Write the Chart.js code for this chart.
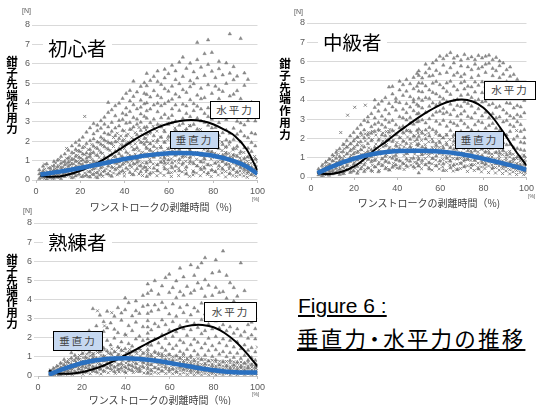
<!DOCTYPE html>
<html><head><meta charset="utf-8">
<script src="https://cdn.jsdelivr.net/npm/chart.js@4"></script>
<style>
html,body{margin:0;padding:0;background:#fff;}
#wrap{position:relative;width:537px;height:405px;overflow:hidden;background:#fff;font-family:"Noto Sans CJK JP","Liberation Sans",sans-serif;}
canvas{position:absolute;}
.t{position:absolute;white-space:nowrap;color:#000;}
.unit{font-family:"Liberation Sans",sans-serif;font-size:7px;color:#595959;}
.pct{font-family:"Liberation Sans",sans-serif;font-size:5px;color:#595959;}
.ytitle{position:absolute;width:14px;text-align:center;font-weight:bold;font-size:11.5px;color:#000;}
.ttl{position:absolute;background:#fff;font-size:19.5px;color:#000;padding:0 5px;line-height:22px;white-space:nowrap;}
.box{position:absolute;border:1.6px solid #000;box-sizing:border-box;font-size:10.5px;color:#404040;text-align:center;letter-spacing:2px;white-space:nowrap;}
.white{background:#fff;}
.blue{background:#c6d8f0;}
.xt{position:absolute;font-size:10px;color:#404040;transform:translateX(-50%);white-space:nowrap;}
.fig{position:absolute;text-decoration:underline;text-decoration-thickness:1.5px;text-underline-offset:2px;color:#000;white-space:nowrap;}
.dot{margin:0 -0.2em;}
</style></head>
<body><div id="wrap">
<canvas id="c1" width="268" height="200" style="left:0;top:0"></canvas>
<canvas id="c2" width="267" height="200" style="left:270px;top:0"></canvas>
<canvas id="c3" width="268" height="205" style="left:0;top:200px"></canvas>

<div class="t unit" style="left:22px;top:7px">[N]</div>
<div class="t unit" style="left:294px;top:8px">[N]</div>
<div class="t unit" style="left:23px;top:207px">[N]</div>
<div class="t pct" style="left:252px;top:196px">[%]</div>
<div class="t pct" style="left:528px;top:193px">[%]</div>
<div class="t pct" style="left:252px;top:391px">[%]</div>

<div class="ytitle" style="left:5px;top:56px;line-height:11.2px">鉗<br>子<br>先<br>端<br>作<br>用<br>力</div>
<div class="ytitle" style="left:278px;top:58px;line-height:11.8px">鉗<br>子<br>先<br>端<br>作<br>用<br>力</div>
<div class="ytitle" style="left:5px;top:254px;line-height:10.6px">鉗<br>子<br>先<br>端<br>作<br>用<br>力</div>

<div class="ttl" style="left:43px;top:37px">初心者</div>
<div class="ttl" style="left:318px;top:31px">中級者</div>
<div class="ttl" style="left:43px;top:231px">熟練者</div>

<div class="box white" style="left:210px;top:101px;width:50px;height:18px;line-height:15px">水平力</div>
<div class="box blue" style="left:170px;top:131px;width:49px;height:18px;line-height:15px">垂直力</div>
<div class="box white" style="left:484px;top:81px;width:52px;height:19px;line-height:16px">水平力</div>
<div class="box blue" style="left:455px;top:131px;width:49px;height:18px;line-height:15px">垂直力</div>
<div class="box white" style="left:204px;top:302px;width:53px;height:20px;line-height:17px">水平力</div>
<div class="box blue" style="left:53px;top:331px;width:50px;height:20px;line-height:17px">垂直力</div>

<div class="xt" style="left:161px;top:199px">ワンストロークの剥離時間（%)</div>
<div class="xt" style="left:429px;top:195px">ワンストロークの剥離時間（%)</div>
<div class="xt" style="left:160px;top:392px">ワンストロークの剥離時間（%)</div>

<div class="fig" style="left:298px;top:294px;font-family:'Liberation Sans',sans-serif;font-size:21px">Figure 6 :</div>
<div class="fig" style="left:297px;top:322px;font-size:21.5px;letter-spacing:2.2px">垂直力<span class="dot">・</span>水平力の推移</div>
</div>
<script>
// ---------- trend curves ----------
const noviceBlackX = [2,5,10,15,20,25,30,35,40,45,50,55,60,65,70,75,80,85,90,95,100];
const noviceBlackY = [0.22,0.17,0.18,0.3,0.48,0.72,1.02,1.38,1.75,2.12,2.45,2.72,2.92,3.05,3.1,3.05,2.88,2.6,2.25,1.6,0.5];
const noviceBlueX = [2,10,20,30,40,50,60,65,70,80,90,95,100];
const noviceBlueY = [0.28,0.42,0.62,0.85,1.08,1.27,1.38,1.4,1.38,1.25,0.95,0.7,0.32];

const interBlackX = [3,5,8,10,15,20,25,30,35,40,45,50,55,60,65,70,75,80,85,90,95,100];
const interBlackY = [0.22,0.17,0.15,0.17,0.3,0.55,0.95,1.45,1.85,2.3,2.7,3.1,3.45,3.75,3.95,4.02,3.92,3.6,3.0,2.2,1.35,0.6];
const interBlueX = [3,10,20,30,40,50,60,70,80,90,100];
const interBlueY = [0.2,0.55,0.95,1.22,1.35,1.37,1.32,1.18,0.95,0.68,0.38];

const expertBlackX = [5,10,15,20,25,30,35,40,45,50,55,60,65,70,73,75,80,85,90,95,100];
const expertBlackY = [0.28,0.12,0.12,0.2,0.35,0.55,0.8,1.1,1.4,1.72,2.0,2.28,2.52,2.65,2.68,2.67,2.55,2.25,1.8,1.2,0.5];
const expertBlueX = [5,10,15,20,25,30,35,40,45,50,55,60,65,70,75,80,85,90,95,100];
const expertBlueY = [0.07,0.3,0.5,0.68,0.8,0.88,0.92,0.93,0.9,0.85,0.78,0.68,0.58,0.48,0.38,0.3,0.24,0.2,0.18,0.18];

// ---------- samples read column by column: [x, [y...]] ----------
const noviceTri = [
[1.5,[0.08,0.31,0.52]],[3.2,[0.14,0.22,0.47,0.71]],[4.9,[0.05,0.38,0.29,0.83]],[6.4,[0.19,0.11,0.61,0.44]],
[8.1,[0.27,0.09,0.74,0.52,0.95]],[9.7,[0.33,0.68,0.14,1.02,0.49]],[11.3,[0.21,0.87,0.43,1.21,0.06,0.63]],[13.0,[0.52,0.18,1.34,0.79,0.96,0.37]],
[14.6,[0.71,0.29,1.12,0.48,1.53,0.92]],[16.2,[0.12,0.83,1.41,0.57,1.07,1.76,0.34]],[17.9,[0.46,1.22,0.68,1.93,0.21,0.97,1.58]],[19.5,[0.87,0.31,1.48,2.05,0.62,1.16,1.79]],
[21.1,[0.18,1.03,1.67,0.54,2.21,1.34,0.79]],[22.8,[0.64,1.39,0.25,1.88,2.47,1.12,0.93]],[24.4,[1.21,0.42,2.03,0.77,1.58,2.69,0.15,1.34]],[26.0,[0.58,1.74,0.96,2.38,2.91,0.29,1.42,2.12]],
[27.7,[0.81,1.96,0.37,2.54,1.27,1.63,0.12,2.83]],[29.3,[1.42,0.63,2.21,3.06,0.95,1.84,0.28,2.67]],[30.9,[0.47,1.71,2.88,1.18,2.43,0.86,3.24,2.05]],[32.6,[1.05,2.36,0.31,1.59,3.48,2.74,0.72,1.93,4.0]],
[34.2,[0.66,1.88,2.97,1.33,0.19,2.51,3.62,1.02]],[35.8,[1.48,0.54,2.68,3.31,1.97,0.87,2.29,3.83,1.21]],[37.5,[0.93,2.14,1.62,3.07,0.35,2.79,3.96,1.36,0.68]],[39.1,[1.77,0.48,2.56,3.44,1.19,2.02,4.21,0.81,3.12]],
[40.7,[0.61,1.43,2.93,3.71,2.28,0.97,1.86,4.47,3.36]],[42.4,[1.24,2.61,0.39,3.53,1.89,4.08,2.97,0.76,4.62]],[44.0,[0.84,2.07,1.56,3.22,4.31,2.74,0.27,3.88,1.13,5.1]],[45.6,[1.67,0.58,2.88,3.67,2.33,4.54,1.09,3.14,0.91]],
[47.3,[0.42,1.94,3.41,2.56,4.12,1.31,4.83,2.98,0.73,3.76]],[48.9,[1.28,2.71,0.66,3.93,1.85,4.47,3.28,2.14,5.02]],[50.0,[0.18,0.52,0.87,1.21,1.63,1.98,2.36,2.74,3.19,3.57,3.98,4.41,4.86,5.5]],[51.6,[0.94,2.47,1.52,3.66,4.28,0.35,2.96,5.13,1.87]],
[53.2,[1.73,0.61,3.14,2.28,4.61,3.87,1.18,5.34,2.63]],[54.9,[0.79,2.05,3.52,1.41,4.36,2.87,5.08,0.47,3.96,5.62]],[56.5,[1.36,2.74,0.92,3.83,4.93,2.21,1.67,4.24,3.21]],[58.1,[0.57,1.94,3.38,2.49,4.71,1.12,5.27,3.94,0.86,5.71]],
[59.8,[1.61,2.87,0.38,4.06,3.19,5.49,2.24,1.03,4.58]],[61.4,[0.89,2.31,3.67,1.47,4.84,2.95,5.92,0.63,4.17,3.33]],[63.0,[1.94,0.71,3.04,4.43,2.58,5.18,1.28,3.87,5.63]],[64.7,[0.48,1.57,2.82,3.59,4.97,2.16,6.08,1.06,4.28]],
[66.3,[1.23,2.46,0.86,3.91,5.34,3.17,1.79,4.66,6.34,2.91]],[67.9,[0.67,1.98,3.43,2.63,4.52,5.76,1.41,3.82,0.32]],[69.6,[1.52,2.79,0.95,4.14,3.27,5.12,2.24,6.03,1.17,4.81]],[71.2,[0.41,2.13,3.58,1.76,4.97,2.87,5.58,0.84,3.94]],
[72.8,[1.36,2.62,0.72,3.81,4.38,6.21,2.04,5.26,7.1,3.19]],[74.5,[0.93,1.89,3.04,2.41,4.73,5.82,1.27,3.66,0.54,4.19]],[76.1,[1.68,2.97,0.61,4.25,3.43,5.39,2.16,6.52,1.09]],[77.7,[0.78,2.34,3.72,1.49,4.91,2.82,5.96,3.27,7.23,0.36]],
[79.4,[1.44,0.52,2.69,3.96,4.47,1.91,5.61,3.13,6.58,2.37]],[81.0,[0.87,2.08,3.42,1.26,4.84,2.71,5.28,0.43,3.88]],[82.6,[1.62,2.96,0.74,4.19,3.53,5.74,2.29,1.15,4.67,6.12]],[84.3,[0.56,1.83,3.21,2.44,4.57,1.29,5.42,3.86,0.97]],
[85.9,[1.37,2.58,0.82,3.64,4.98,2.07,6.04,3.12,1.71]],[87.5,[0.69,1.96,3.27,2.41,4.33,5.51,1.18,7.54,3.79,0.34]],[89.2,[1.28,2.67,0.57,3.86,2.09,5.17,4.42,5.85,1.63]],[90.8,[0.81,1.74,3.03,2.36,4.61,1.21,3.58,0.42,5.36]],
[92.4,[1.46,0.63,2.51,3.72,1.97,4.19,7.3,2.94,0.98]],[94.1,[0.53,1.67,2.84,1.12,3.43,4.88,2.27,0.87,5.52]],[95.7,[1.19,0.41,2.18,3.06,1.64,3.77,5.19,0.79]],[97.3,[0.66,1.47,0.28,2.43,1.93,3.21,4.02]],
[99.0,[0.36,1.08,1.76,0.59,2.37,3.04]]
];
const noviceCross = [
[2.3,[0.12,0.36,0.21]],[3.9,[0.28,0.07,0.55,0.82]],[5.6,[0.41,0.17,0.63]],[7.4,[0.09,0.36,0.71,0.48]],
[8.9,[0.22,0.58,0.34,0.87]],[10.5,[0.46,0.13,0.74,1.06,0.29]],[12.2,[0.31,0.66,0.18,0.94,0.52]],[13.8,[0.58,1.12,0.24,0.83,1.63,0.41]],
[15.4,[0.19,0.77,0.46,1.21,0.95]],[17.1,[0.63,0.32,1.08,0.84,1.39,0.14]],[18.7,[0.43,0.96,0.26,1.27,0.71,1.52]],[20.3,[0.81,0.17,1.14,0.55,1.46,0.99]],
[22.0,[0.36,1.31,0.68,0.93,1.72,3.28,0.21]],[23.6,[0.72,0.44,1.19,1.57,0.18,0.96]],[25.2,[0.53,1.06,0.29,1.41,0.84,1.83]],[26.9,[0.92,0.38,1.28,1.67,0.61,0.16]],
[28.5,[0.24,1.16,0.73,1.52,1.94,0.49]],[30.1,[0.68,1.37,0.43,1.79,1.04,0.19,2.13]],[31.8,[1.12,0.57,1.64,0.31,2.01,0.89]],[33.4,[0.46,1.28,0.82,1.91,1.52,0.23,2.34]],
[35.0,[0.97,0.36,1.73,1.21,2.19,0.64]],[36.7,[0.59,1.46,0.27,1.98,1.07,2.41,0.83]],[38.3,[1.24,0.71,1.83,0.43,2.27,1.55]],[39.9,[0.38,1.09,1.62,2.08,0.86,2.53,0.21]],
[41.6,[0.91,1.37,0.54,1.96,2.36,1.18]],[43.2,[0.66,1.71,0.29,1.23,2.18,2.62,0.97]],[44.8,[1.33,0.48,1.87,0.82,2.44,1.58]],[46.5,[0.74,1.52,0.31,2.07,1.16,2.71,0.96]],
[48.1,[1.18,0.57,1.94,1.43,2.33,0.23,0.89]],[49.7,[0.42,1.36,0.91,2.16,1.71,2.58,0.67]],[51.3,[1.07,0.64,1.58,2.41,0.27,1.89]],[52.9,[0.83,1.46,0.39,2.02,1.21,2.77]],
[54.6,[0.51,1.29,1.94,0.78,2.52,1.63,0.22]],[56.2,[1.14,0.36,1.73,0.92,2.21,2.84]],[57.8,[0.69,1.47,0.24,1.98,1.19,2.57,0.98]],[59.5,[1.26,0.54,2.09,0.86,1.62,2.93]],
[61.1,[0.38,1.09,1.81,0.72,2.34,1.44,0.18]],[62.7,[0.97,1.58,0.46,2.16,1.27,2.68]],[64.4,[0.61,1.34,0.23,1.93,0.89,2.47,1.68]],[66.0,[1.16,0.42,1.76,2.29,0.78,1.41]],
[67.6,[0.53,1.21,1.89,0.31,2.56,0.96]],[69.3,[0.84,1.54,0.19,2.13,1.12,2.81]],[70.9,[0.47,1.28,0.91,1.97,2.44,0.26]],[72.5,[1.07,0.36,1.69,2.26,0.74,1.42]],
[74.2,[0.63,1.39,0.22,1.84,2.61,0.98]],[75.8,[0.91,1.58,0.41,2.17,1.16,0.68]],[77.4,[0.29,1.24,0.82,1.93,2.36,1.51]],[79.1,[0.76,1.46,0.18,2.04,1.08,0.49]],
[80.7,[1.17,0.43,1.72,0.87,2.24,1.38]],[82.3,[0.58,1.31,0.26,1.86,0.94,2.09]],[84.0,[0.94,0.37,1.52,1.17,1.96,0.63]],[85.6,[0.44,1.23,0.79,1.68,0.16,1.42]],
[87.2,[0.82,0.31,1.37,1.04,1.83,0.57]],[88.9,[0.52,1.14,0.23,1.56,0.86,1.29]],[90.5,[0.73,0.38,1.28,0.97,1.61,0.19]],[92.1,[0.46,0.92,1.36,0.27,1.14,0.68]],
[93.8,[0.61,0.21,1.09,0.83,1.42,0.39]],[95.4,[0.33,0.74,0.52,1.18,0.14,0.96]],[97.0,[0.48,0.27,0.86,0.64,1.07]],[98.7,[0.22,0.57,0.38,0.81,1.21]],
[100,[0.12,0.34,0.51,0.72,0.93,1.06,0.44]]
];

const interTri = [
[3.5,[0.11,0.26,0.42]],[5.1,[0.07,0.34,0.58,0.19]],[6.8,[0.23,0.49,0.14,0.76]],[8.4,[0.38,0.09,0.63,0.92,0.27]],
[10.0,[0.16,0.54,0.83,0.31,1.14]],[11.7,[0.46,0.22,0.97,0.71,1.28]],[13.3,[0.64,0.13,1.06,0.39,1.47,0.86]],[14.9,[0.28,0.91,0.52,1.31,1.68,0.17]],
[16.6,[0.77,1.19,0.36,1.54,0.58,1.89]],[18.2,[0.43,1.02,1.71,0.24,1.36,2.13,0.81]],[19.8,[0.96,0.31,1.48,2.31,0.67,1.87,1.19]],[21.5,[0.54,1.27,2.06,0.19,1.66,2.52,0.88]],
[23.1,[1.11,0.42,1.83,2.71,0.73,1.42,2.28]],[24.7,[0.63,1.56,2.44,0.28,2.03,2.94,1.14]],[26.4,[1.32,0.47,2.19,2.86,0.91,1.73,3.12]],[28.0,[0.79,1.88,2.61,0.34,1.41,3.29,2.27,1.06]],
[29.6,[1.54,0.52,2.37,3.07,1.17,2.74,3.61,0.86,4.0]],[31.3,[0.68,1.91,2.83,1.34,3.42,0.27,2.46,3.78]],[32.9,[1.27,2.18,0.59,3.16,1.73,3.94,2.71,0.94]],[34.5,[0.43,1.62,2.58,3.49,1.08,4.12,2.97,0.81,2.14]],
[36.2,[1.46,0.74,2.33,3.28,1.91,3.82,2.84,4.67,0.36]],[37.8,[0.97,1.84,2.94,0.51,3.64,2.42,4.31,1.37,4.7]],[39.4,[1.63,0.62,2.71,3.47,2.19,4.08,1.12,3.91,0.88]],[41.1,[0.84,2.04,3.13,1.48,3.86,2.56,4.52,0.46,4.97]],
[42.7,[1.39,2.63,0.71,3.52,4.24,1.86,3.07,4.79,2.31]],[44.3,[0.58,1.74,2.96,3.81,1.23,4.46,2.41,5.06,3.34,0.93]],[46.0,[1.57,2.38,0.82,3.63,4.17,1.96,4.84,3.09,2.79]],[47.6,[0.97,2.12,3.44,1.38,4.58,2.74,5.17,3.89,0.53,4.03]],
[49.2,[1.68,0.72,2.86,3.76,1.94,4.71,3.27,5.38,2.41]],[50.0,[0.21,0.57,0.93,1.34,1.72,2.11,2.48,2.89,3.31,3.68,4.09,4.46,4.88,5.27,5.51]],[51.6,[0.86,2.27,3.58,1.56,4.42,2.96,5.14,3.97,1.17,4.87]],[53.2,[1.49,0.64,2.81,4.12,3.36,5.41,1.98,4.73,2.44,5.86]],
[54.9,[0.73,2.13,3.67,1.27,4.52,3.02,5.63,2.57,4.08,0.41,5.24]],[56.5,[1.83,0.96,3.21,4.39,2.46,5.27,3.84,1.41,5.92,4.87]],[58.1,[0.58,2.36,1.64,3.73,4.96,2.89,5.53,4.31,1.09,6.06,3.37]],[59.8,[1.27,2.74,0.83,4.17,3.41,5.36,2.16,4.79,6.27,3.86,1.79]],
[61.4,[0.69,2.03,3.57,1.51,4.62,2.94,5.81,4.06,0.34,6.14,3.29]],[63.0,[1.68,0.97,2.63,3.92,4.88,2.17,5.43,3.36,6.31,4.44,1.26]],[64.7,[0.82,2.41,3.78,1.53,4.29,5.67,2.86,6.46,3.24,4.97,0.48]],[66.3,[1.44,2.18,0.63,3.49,4.71,2.78,5.92,3.97,5.28,1.86,6.17]],
[67.9,[0.96,2.67,1.62,4.03,3.16,5.41,4.52,6.28,2.21,0.39,3.71]],[69.6,[1.57,0.71,2.93,3.66,4.88,2.38,5.76,4.24,6.07,1.18,3.27,5.21]],[71.2,[0.88,2.14,3.42,1.68,4.57,5.34,2.76,6.36,3.91,4.96,0.54]],[72.8,[1.36,2.58,0.92,3.82,4.29,5.72,3.14,1.84,6.14,4.71,2.27]],
[74.5,[0.62,1.91,3.07,2.43,4.68,5.16,3.68,6.24,1.27,5.57,4.13]],[76.1,[1.74,0.86,2.71,3.94,4.41,5.86,3.32,2.14,6.09,4.93,1.36]],[77.7,[0.97,2.36,3.54,1.58,4.76,5.27,2.89,6.31,4.02,0.42,5.63]],[79.4,[1.46,2.82,0.73,3.89,4.38,5.71,3.17,2.09,6.18,4.94,1.12]],
[81.0,[0.67,1.98,3.36,2.53,4.71,5.43,1.31,6.27,3.93,4.18,5.86]],[82.6,[1.52,2.67,0.91,3.74,4.52,5.91,3.08,2.18,6.33,4.87,1.23]],[84.3,[0.84,2.14,3.29,1.63,4.36,5.26,2.78,6.09,3.81,5.64,0.47]],[85.9,[1.28,2.53,0.69,3.61,4.84,5.52,3.07,1.86,6.21,4.27]],
[87.5,[0.73,1.84,3.12,2.41,4.49,5.78,3.67,1.23,5.16,6.02]],[89.2,[1.36,2.29,0.56,3.48,4.17,5.34,2.86,1.78,5.92,4.71]],[90.8,[0.61,1.67,2.93,2.18,3.84,4.96,3.31,1.14,5.57,4.38]],[92.4,[1.21,2.36,0.78,3.17,4.41,2.71,5.23,3.82,1.69,5.71]],
[94.1,[0.49,1.53,2.62,1.96,3.58,4.74,3.06,0.94,4.23,5.32]],[95.7,[1.04,2.12,0.62,2.87,3.71,1.48,4.36,3.23,5.07]],[97.3,[0.56,1.42,2.37,1.81,3.14,4.13,2.72,0.97,3.64]],[99.0,[0.31,1.08,1.76,0.67,2.46,3.33,2.04,3.97,1.38]]
];
const interCross = [
[3.9,[0.14,0.29]],[5.6,[0.21,0.44,0.08,0.66]],[7.2,[0.37,0.13,0.58,0.81]],[8.9,[0.26,0.67,0.44,0.93]],
[10.5,[0.52,0.19,0.84,1.07,0.36]],[12.1,[0.33,0.76,1.16,0.57,1.38]],[13.8,[0.61,0.24,0.97,1.29,2.31,0.44]],[15.4,[0.46,1.08,0.73,1.47,0.19,1.71]],
[17.0,[0.82,0.37,1.24,1.59,3.21,0.62]],[18.7,[0.54,1.13,0.28,1.76,0.91,1.43]],[20.3,[1.02,0.47,1.58,1.97,3.62,0.76,1.29]],[21.9,[0.66,1.34,0.31,1.81,2.07,0.98]],
[23.6,[1.17,0.52,1.63,0.86,2.16,1.41]],[25.2,[0.38,1.26,1.87,0.74,2.24,3.73,1.02]],[26.8,[0.93,1.51,0.46,2.03,1.23,2.31]],[28.5,[0.61,1.36,0.87,1.94,2.37,0.29]],
[30.1,[1.14,0.53,1.71,2.18,0.92,1.46]],[31.7,[0.77,1.42,0.34,1.98,2.41,1.19]],[33.4,[1.28,0.64,1.86,0.97,2.29,1.57]],[35.0,[0.49,1.17,1.68,2.36,0.83,1.94]],
[36.6,[1.03,0.37,1.54,2.13,1.31,2.47]],[38.3,[0.71,1.44,0.58,1.92,2.38,1.09]],[39.9,[1.26,0.46,1.79,0.93,2.21,1.58]],[41.5,[0.57,1.34,2.04,0.82,1.67,2.46]],
[43.2,[1.12,0.68,1.57,2.27,0.39,1.86]],[44.8,[0.84,1.46,0.52,2.08,1.21,2.42]],[46.4,[1.33,0.61,1.74,0.97,2.31,1.52]],[48.1,[0.46,1.19,1.86,0.77,2.14,1.43]],
[49.7,[1.07,0.58,1.62,2.28,0.89,1.38]],[51.3,[0.72,1.36,0.43,1.91,2.37,1.16]],[53.0,[1.22,0.64,1.68,0.96,2.19,1.47]],[54.6,[0.51,1.12,1.83,0.78,2.29,1.39]],
[56.2,[0.97,1.54,0.36,1.97,1.24,0.69]],[57.9,[1.31,0.59,1.76,0.88,2.23,1.48]],[59.5,[0.68,1.21,0.42,1.87,1.53,2.16]],[61.1,[1.14,0.53,1.62,0.91,2.04,1.37]],
[62.8,[0.77,1.33,0.34,1.79,1.08,2.21]],[64.4,[1.09,0.62,1.51,0.87,1.94,1.28]],[66.0,[0.56,1.18,0.31,1.68,0.96,2.07]],[67.7,[0.93,1.42,0.67,1.83,1.16,0.38]],
[69.3,[0.71,1.26,0.44,1.61,1.97,0.97]],[70.9,[1.03,0.52,1.47,0.82,1.86,1.24]],[72.6,[0.58,1.14,0.29,1.57,0.91,1.78]],[74.2,[0.86,1.36,0.47,1.72,1.12,0.63]],
[75.8,[0.64,1.08,0.34,1.49,1.83,0.89]],[77.5,[0.97,0.49,1.31,0.72,1.67,1.16]],[79.1,[0.52,1.06,0.27,1.44,0.83,1.74]],[80.7,[0.81,1.27,0.44,1.58,0.99,0.61]],
[82.4,[0.57,1.02,0.23,1.37,0.78,1.62]],[84.0,[0.84,0.42,1.19,0.63,1.48,1.04]],[85.6,[0.49,0.92,0.21,1.26,0.71,1.53]],[87.3,[0.76,0.36,1.08,0.57,1.37,0.94]],
[88.9,[0.43,0.84,0.18,1.16,0.66,1.41]],[90.5,[0.69,0.32,0.98,0.51,1.27,0.86]],[92.2,[0.38,0.77,0.16,1.04,0.59,1.33]],[93.8,[0.62,0.27,0.91,0.46,1.18,0.79]],
[95.4,[0.34,0.71,0.13,0.96,0.53,2.41]],[97.1,[0.57,0.24,0.84,0.41,1.09,0.68]],[98.7,[0.29,0.63,0.12,0.87,0.47,1.14]],[100,[0.19,0.42,0.61,0.83,1.02,0.31]]
];

const expertTri = [
[5.4,[0.09,0.27]],[7.0,[0.18,0.06,0.39]],[8.6,[0.29,0.12,0.51]],[10.3,[0.07,0.43,0.22,0.68]],
[11.9,[0.34,0.16,0.57,0.86]],[13.5,[0.11,0.48,0.27,0.73]],[15.2,[0.38,0.62,0.19,0.94,1.21]],[16.8,[0.24,0.81,0.47,1.08]],
[18.4,[0.53,0.16,0.92,0.36,1.37]],[20.1,[0.31,0.72,1.16,0.48,2.18,1.53]],[21.7,[0.62,0.21,0.97,1.38,0.44,1.89]],[23.3,[0.39,0.86,1.24,0.57,1.71,2.37]],
[25.0,[0.71,0.28,1.12,0.49,1.54,3.52,2.06,0.94]],[26.6,[0.46,0.93,1.37,0.22,1.91,2.62]],[28.2,[0.83,0.35,1.26,0.61,2.14,1.68,3.18]],[29.9,[0.52,1.04,0.27,1.47,2.33,0.79,2.84]],
[31.5,[0.91,0.43,1.31,0.68,1.86,3.38,2.51]],[33.1,[0.38,0.79,1.18,0.57,1.62,2.77]],[34.8,[0.82,0.46,1.27,0.24,1.98,3.12,2.44]],[36.4,[0.56,1.09,0.33,1.51,2.26,3.57]],
[38.0,[0.87,0.41,1.34,0.64,1.78,2.91,3.29]],[39.7,[0.47,0.96,0.21,1.42,2.17,4.08,3.46]],[41.3,[0.78,0.36,1.23,0.58,1.69,2.63,3.83]],[42.9,[0.53,1.01,0.29,1.56,2.37,3.14]],
[44.6,[0.84,0.44,1.29,0.66,1.93,2.81,3.92,3.41]],[46.2,[0.39,0.92,1.41,0.23,2.08,3.27]],[47.8,[0.71,0.48,1.17,1.86,2.57,3.64,4.21]],[50.0,[0.14,0.38,0.62,0.87,1.12,1.38,1.66,1.94,2.23,2.56,2.89,3.27,3.71,4.32,4.81]],
[51.6,[0.59,0.28,1.03,1.61,2.41,3.38,4.47]],[53.2,[0.82,0.43,1.27,1.94,2.73,3.71,4.98]],[54.9,[0.36,0.71,1.18,1.72,2.58,3.46,4.27]],[56.5,[0.64,0.27,1.07,1.48,2.16,2.93,3.84,4.71]],
[58.1,[0.47,0.86,1.34,1.96,2.68,3.57,5.14]],[59.8,[0.72,0.31,1.12,1.67,2.39,3.24,4.36,5.32]],[61.4,[0.38,0.83,1.43,2.07,2.84,3.76,4.62]],[63.0,[0.61,0.24,1.06,1.59,2.31,3.12,4.09,4.97]],
[64.7,[0.44,0.91,1.28,1.87,2.63,3.58,4.41,5.64]],[66.3,[0.69,0.33,1.16,1.74,2.47,3.31,4.22,5.18]],[67.9,[0.41,0.86,1.39,2.12,2.86,3.71,4.68]],[69.6,[0.63,0.27,1.04,1.63,2.41,3.19,4.33,5.81]],
[71.2,[0.38,0.79,1.31,1.92,2.74,3.56,4.47,5.26]],[72.8,[0.57,0.22,1.12,1.76,2.53,3.38,4.86,5.67]],[74.5,[0.43,0.87,1.46,2.21,2.94,3.81,4.58,5.91]],[76.1,[0.61,0.29,1.08,1.69,2.37,3.24,4.16,6.18,5.03]],
[77.7,[0.36,0.78,1.33,1.97,2.71,3.62,4.74]],[79.4,[0.54,0.21,1.02,1.58,2.46,3.29,4.21,5.38]],[81.0,[0.41,0.84,1.37,2.06,2.87,3.71,4.63,6.07]],[82.6,[0.58,0.26,1.14,1.72,2.51,3.36,4.37,5.47]],
[84.3,[0.33,0.76,1.27,1.93,2.68,3.54,4.41,6.53]],[85.9,[0.52,0.19,1.01,1.58,2.36,3.18,4.06,5.26]],[87.5,[0.39,0.81,1.22,1.86,2.57,3.43,4.87]],[89.2,[0.56,0.24,0.97,1.51,2.23,3.06,3.91,4.62]],
[90.8,[0.33,0.73,1.19,1.78,2.46,3.27,4.17]],[92.4,[0.49,0.18,0.91,1.43,2.12,2.93,3.74,5.91]],[94.1,[0.29,0.68,1.07,1.62,2.31,3.08,4.46]],[95.7,[0.43,0.16,0.82,1.34,1.97,2.68,3.47]],
[97.3,[0.25,0.59,0.96,1.48,2.14,2.81]],[99.0,[0.14,0.46,0.83,1.26,1.94,2.47]]
];
const expertCross = [
[5.8,[0.06,0.19,0.31]],[7.5,[0.14,0.27,0.08,0.42]],[9.1,[0.21,0.05,0.36,0.53]],[10.7,[0.12,0.31,0.47,0.64]],
[12.4,[0.26,0.09,0.54,0.38,0.72]],[14.0,[0.17,0.42,0.29,0.67,0.86]],[15.6,[0.34,0.08,0.58,0.46,0.81]],[17.3,[0.21,0.49,0.13,0.73,0.94]],
[18.9,[0.38,0.62,0.17,0.86,1.07]],[20.5,[0.27,0.53,0.09,0.78,0.96,1.21]],[22.2,[0.44,0.19,0.69,0.92,1.14]],[23.8,[0.31,0.57,0.12,0.83,1.06,1.28]],
[25.4,[0.48,0.24,0.74,0.97,1.18]],[27.1,[0.16,0.41,0.66,0.89,1.23,3.41]],[28.7,[0.36,0.59,0.11,0.84,1.08,1.31]],[30.3,[0.23,0.52,0.79,1.02,1.36,2.62]],
[32.0,[0.43,0.17,0.68,0.93,1.19]],[33.6,[0.29,0.56,0.81,1.11,1.42,3.31]],[35.2,[0.14,0.47,0.73,0.98,1.27]],[36.9,[0.37,0.62,0.21,0.89,1.14,1.46]],
[38.5,[0.26,0.54,0.79,1.06,1.33]],[40.1,[0.41,0.16,0.68,0.94,1.21,2.13]],[41.8,[0.31,0.57,0.83,1.09,1.38]],[43.4,[0.18,0.46,0.72,0.99,1.26]],
[45.0,[0.37,0.63,0.24,0.88,1.17]],[46.7,[0.27,0.52,0.78,1.04,1.34]],[48.3,[0.43,0.16,0.67,0.93,1.22]],[50.0,[0.22,0.49,0.74,0.97,1.28,1.61]],
[51.6,[0.34,0.11,0.59,0.86,1.13]],[53.3,[0.19,0.44,0.71,0.94,1.21]],[54.9,[0.37,0.58,0.14,0.82,1.08]],[56.5,[0.24,0.49,0.71,0.96,1.17]],
[58.2,[0.36,0.13,0.61,0.84,1.06]],[59.8,[0.21,0.43,0.67,0.89,1.12]],[61.4,[0.33,0.12,0.56,0.78,1.01]],[63.1,[0.18,0.41,0.62,0.84,1.04]],
[64.7,[0.29,0.09,0.52,0.73,0.96]],[66.3,[0.17,0.38,0.59,0.81,1.02]],[68.0,[0.27,0.08,0.48,0.69,0.92]],[69.6,[0.16,0.34,0.55,0.76,0.94]],
[71.2,[0.24,0.07,0.45,0.63,0.87]],[72.9,[0.14,0.32,0.51,0.72,0.91]],[74.5,[0.22,0.06,0.41,0.61,0.84]],[76.1,[0.13,0.29,0.47,0.66,0.86]],
[77.8,[0.21,0.38,0.07,0.57,0.79]],[79.4,[0.12,0.28,0.44,0.63,0.82]],[81.0,[0.19,0.36,0.06,0.53,0.74]],[82.7,[0.11,0.26,0.42,0.59,0.77]],
[84.3,[0.18,0.34,0.07,0.51,0.71]],[85.9,[0.12,0.27,0.43,0.58,0.76]],[87.6,[0.19,0.35,0.06,0.49,0.68]],[89.2,[0.11,0.26,0.41,0.57,0.74]],
[90.8,[0.18,0.33,0.07,0.48,0.66]],[92.5,[0.12,0.27,0.42,0.56,0.73]],[94.1,[0.17,0.32,0.06,0.47,0.64]],[95.7,[0.11,0.24,0.39,0.54,0.71]],
[97.4,[0.16,0.31,0.07,0.46,0.62]],[99.0,[0.12,0.25,0.38,0.52,0.68]],[100,[0.09,0.21,0.34,0.47,0.61,1.51]]
];

// ---------- axis ticks ----------
const xTicks = [0,20,40,60,80,100];
const yTicks = [0,1,2,3,4,5,6,7,8];

// ---------- build ----------
function flat(cols){ const o=[]; cols.forEach(([x,ys])=>ys.forEach(y=>o.push({x:x,y:y}))); return o; }
function pts(xs,ys){ return xs.map((x,i)=>({x:x,y:ys[i]})); }
const GRAY='rgba(118,118,118,0.85)';
const tickFont={family:'"Liberation Sans", Arial, sans-serif', size:9};

function make(id, tri, crs, bx, by, ux, uy, lay){
  new Chart(document.getElementById(id), {
    type:'scatter',
    data:{datasets:[
      {type:'line', data:pts(ux,uy), borderColor:'#2a70c0', borderWidth:4.5, pointRadius:0, cubicInterpolationMode:'monotone', fill:false, order:0},
      {type:'line', data:pts(bx,by), borderColor:'#000', borderWidth:2, pointRadius:0, cubicInterpolationMode:'monotone', fill:false, order:1},
      {data:flat(tri), pointStyle:'triangle', pointRadius:2.0, backgroundColor:GRAY, borderColor:GRAY, borderWidth:0.5, order:2},
      {data:flat(crs), pointStyle:'crossRot', pointRadius:2.1, backgroundColor:GRAY, borderColor:GRAY, borderWidth:1, order:3}
    ]},
    options:{
      responsive:false, animation:false, events:[],
      layout:{padding:{top:lay.top, right:lay.right, left:0, bottom:0}},
      plugins:{legend:{display:false}, tooltip:{enabled:false}, title:{display:false}},
      scales:{
        x:{type:'linear', min:0, max:100,
           afterBuildTicks:(s)=>{ s.ticks = xTicks.map(v=>({value:v})); },
           ticks:{font:tickFont, color:'#595959', padding:3, maxRotation:0},
           grid:{drawOnChartArea:false, tickLength:3, tickColor:'#bfbfbf'},
           border:{display:true, color:'#bfbfbf', width:1},
           afterFit:(s)=>{ s.height = lay.xh; }},
        y:{type:'linear', min:0, max:8,
           afterBuildTicks:(s)=>{ s.ticks = yTicks.map(v=>({value:v})); },
           ticks:{font:tickFont, color:'#595959', padding:2},
           grid:{color:'#d9d9d9', tickLength:4, lineWidth:1},
           border:{display:false},
           afterFit:(s)=>{ s.width = lay.yw; }}
      }
    }
  });
}
make('c1', noviceTri, noviceCross, noviceBlackX, noviceBlackY, noviceBlueX, noviceBlueY, {top:25, right:10, xh:20, yw:36});
make('c2', interTri, interCross, interBlackX, interBlackY, interBlueX, interBlueY, {top:23, right:5, xh:23, yw:41});
make('c3', expertTri, expertCross, expertBlackX, expertBlackY, expertBlueX, expertBlueY, {top:23, right:10, xh:29, yw:38});
</script>
</body></html>
